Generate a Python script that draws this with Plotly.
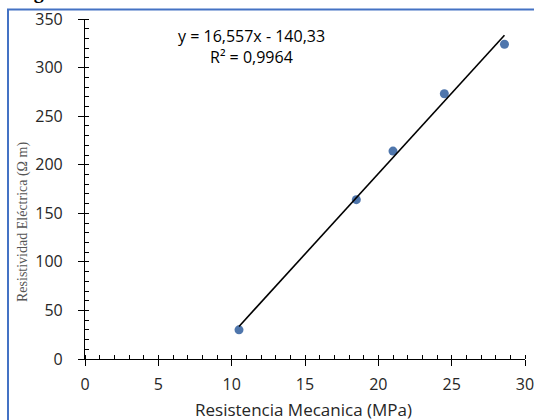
import plotly.graph_objects as go

# Data
resistencia_mpa = [10.5, 18.5, 21.0, 24.5, 28.6]
resistividad_ohm_m = [30, 164, 214, 273, 324]
slope = 16.557
intercept = -140.33
r_squared_label = "0,9964"
x_ticks = [0, 5, 10, 15, 20, 25, 30]
y_ticks = [0, 50, 100, 150, 200, 250, 300, 350]

x_line = [min(resistencia_mpa), max(resistencia_mpa)]
y_line = [slope * v + intercept for v in x_line]

fig = go.Figure()
fig.add_trace(go.Scatter(
    x=resistencia_mpa, y=resistividad_ohm_m, mode="markers",
    marker=dict(color="#4F76AC", size=9), showlegend=False))
fig.add_trace(go.Scatter(
    x=x_line, y=y_line, mode="lines",
    line=dict(color="black", width=1.6), showlegend=False))

tickfont = dict(family="Open Sans, Liberation Sans, sans-serif", size=16, color="#262626")

fig.update_layout(
    width=534, height=420,
    margin=dict(l=85, r=9, t=19, b=61),
    paper_bgcolor="white", plot_bgcolor="white",
    xaxis=dict(range=[0, 30], tickvals=x_ticks, ticktext=[str(v) for v in x_ticks],
               showgrid=False, zeroline=False, showline=True, linecolor="black", linewidth=1.2,
               ticks="outside", ticklen=6, tickcolor="black", tickwidth=1.2,
               minor=dict(dtick=1, ticks="inside", ticklen=4, tickcolor="black", tickwidth=1),
               tickfont=tickfont, ticklabelstandoff=5, automargin=False,
               ticklabeloverflow="allow"),
    yaxis=dict(range=[0, 350], tickvals=y_ticks, ticktext=[str(v) for v in y_ticks],
               showgrid=False, zeroline=False, showline=True, linecolor="black", linewidth=1.2,
               ticks="outside", ticklen=6, tickcolor="black", tickwidth=1.2,
               minor=dict(dtick=10, ticks="inside", ticklen=4, tickcolor="black", tickwidth=1),
               tickfont=tickfont, ticklabelstandoff=12, automargin=False,
               ticklabeloverflow="allow"),
)

# Blue frame around the figure
fig.add_shape(type="rect", xref="paper", yref="paper",
              x0=(8 - 85) / 440, x1=(560 - 85) / 440,
              y0=(359 - 440) / 340, y1=(359 - 9.5) / 340,
              line=dict(color="#4472C4", width=2), fillcolor="rgba(0,0,0,0)", layer="below")

# Partially cut caption at the top
fig.add_annotation(text="<b>Figura 3</b>", xref="paper", yref="paper",
                   x=(14 - 85) / 440, y=(359 - 5) / 340, xanchor="left", yanchor="bottom",
                   showarrow=False, font=dict(family="Liberation Serif, serif", size=20, color="black"))

# Equation and R²
fig.add_annotation(text=f"y = {str(slope).replace('.', ',')}x - {str(abs(intercept)).replace('.', ',')}",
                   xref="paper", yref="paper", x=(251 - 85) / 440, y=(359 - 36) / 340,
                   xanchor="center", yanchor="middle", showarrow=False,
                   font=dict(family="Open Sans, Liberation Sans, sans-serif", size=16, color="black"))
fig.add_annotation(text=f"R² = {r_squared_label}",
                   xref="paper", yref="paper", x=(251 - 85) / 440, y=(359 - 57) / 340,
                   xanchor="center", yanchor="middle", showarrow=False,
                   font=dict(family="Open Sans, Liberation Sans, sans-serif", size=16, color="black"))

# Axis titles
fig.add_annotation(text="Resistividad Eléctrica (Ω m)", xref="paper", yref="paper",
                   x=(23 - 85) / 440, y=(359 - 222) / 340, textangle=-90,
                   xanchor="center", yanchor="middle", showarrow=False,
                   font=dict(family="Liberation Serif, serif", size=14, color="#555555"))
fig.add_annotation(text="Resistencia Mecanica (MPa)", xref="paper", yref="paper",
                   x=(303 - 85) / 440, y=(359 - 409) / 340,
                   xanchor="center", yanchor="middle", showarrow=False,
                   font=dict(family="Open Sans, Liberation Sans, sans-serif", size=17, color="#262626"))

fig.write_html("out.html", config={"displayModeBar": False},
               post_script="document.body.style.margin='0';document.body.style.overflow='hidden';")
